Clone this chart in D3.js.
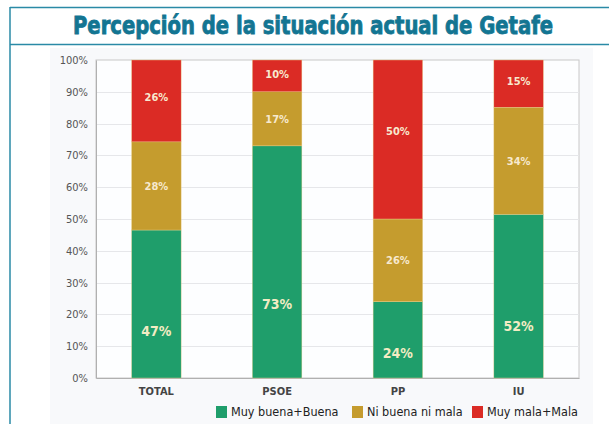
<!DOCTYPE html>
<html><head><meta charset="utf-8">
<script src="https://cdn.jsdelivr.net/npm/d3@7"></script>
<style>body{margin:0;background:#fff}svg{display:block}</style>
</head><body>
<svg id="chart" width="609" height="424"></svg>
<script>
const categories = ["TOTAL", "PSOE", "PP", "IU"];
const seriesNames = ["Muy buena+Buena", "Ni buena ni mala", "Muy mala+Mala"];
const buena = [47, 73, 24, 52];
const niBuena = [28, 17, 26, 34];
const mala = [26, 10, 50, 15];
const yTicks = [0, 10, 20, 30, 40, 50, 60, 70, 80, 90, 100];
const colors = ["#1f9e6b", "#c59c2e", "#db2b25"];
const title = "Percepción de la situación actual de Getafe";

const svg = d3.select("#chart");
const W = 609, H = 424;
const m = {left: 96, right: 30, top: 60, bottom: 46};
const x0 = m.left, x1 = W - m.right, y0 = H - m.bottom, y1 = m.top;

// panel background
svg.append("rect").attr("x", 50).attr("y", 48).attr("width", 543).attr("height", 376).attr("fill", "#f8f9fb");

// title box lines
const teal = "#2a8aa6";
svg.append("rect").attr("x", 11).attr("y", 8.5).attr("width", W - 11).attr("height", 35).attr("fill", "#fff");
svg.append("line").attr("x1", 10).attr("x2", W).attr("y1", 7.5).attr("y2", 7.5).attr("stroke", teal).attr("stroke-width", 1.5);
svg.append("line").attr("x1", 10).attr("x2", W).attr("y1", 44.5).attr("y2", 44.5).attr("stroke", teal).attr("stroke-width", 1.5);
svg.append("line").attr("x1", 10).attr("x2", 10).attr("y1", 7).attr("y2", H).attr("stroke", teal).attr("stroke-width", 1.5);
svg.append("text").attr("x", 313).attr("y", 34).attr("text-anchor", "middle")
  .attr("font-family", "'DejaVu Sans Condensed', 'DejaVu Sans'").attr("font-weight", "bold")
  .attr("font-size", 24).attr("fill", "#137592")
  .attr("stroke", "#137592").attr("stroke-width", 0.8)
  .attr("textLength", 480).attr("lengthAdjust", "spacingAndGlyphs")
  .text(title);

const x = d3.scaleBand().domain(categories).range([x0, x1]).paddingInner(0.59).paddingOuter(0.295);
const y = d3.scaleLinear().domain([0, 1]).range([y0, y1]);

// plot background
svg.append("rect").attr("x", x0).attr("y", y1).attr("width", x1 - x0).attr("height", y0 - y1)
  .attr("fill", "#fdfeff").attr("stroke", "#c8c8c8").attr("stroke-width", 1);

// gridlines
svg.append("g").selectAll("line").data(yTicks.slice(1, -1)).join("line")
  .attr("x1", x0).attr("x2", x1)
  .attr("y1", d => Math.round(y(d / 100)) + 0.5).attr("y2", d => Math.round(y(d / 100)) + 0.5)
  .attr("stroke", "#e6e7ea");

// y axis
const yAxis = d3.axisLeft(y).tickValues(yTicks.map(d => d / 100)).tickFormat(d => Math.round(d * 100) + "%").tickSize(0).tickPadding(8);
const gy = svg.append("g").attr("transform", `translate(${x0},0)`).call(yAxis);
gy.select(".domain").attr("stroke", "#b0b0b0");
gy.selectAll("text").attr("font-family", "'DejaVu Sans Condensed', 'DejaVu Sans'").attr("font-size", 11).attr("fill", "#555");

// x axis
const xAxis = d3.axisBottom(x).tickSize(0).tickPadding(9);
const gx = svg.append("g").attr("transform", `translate(0,${y0})`).call(xAxis);
gx.select(".domain").attr("stroke", "#b0b0b0");
gx.selectAll("text").attr("font-family", "'DejaVu Sans Condensed', 'DejaVu Sans'").attr("font-size", 11).attr("font-weight", "bold").attr("fill", "#444");

// data table & stack
const table = categories.map((c, i) => ({cat: c, s0: buena[i], s1: niBuena[i], s2: mala[i]}));
const stack = d3.stack().keys(["s0", "s1", "s2"]).offset(d3.stackOffsetExpand);
const series = stack(table);

const labelPos = [0.32, 0.5, 0.55];
series.forEach((s, si) => {
  const g = svg.append("g");
  g.selectAll("rect").data(s).join("rect")
    .attr("x", d => x(d.data.cat)).attr("width", x.bandwidth())
    .attr("y", d => y(d[1])).attr("height", d => y(d[0]) - y(d[1]))
    .attr("fill", colors[si]).attr("stroke", "#e9cf8a").attr("stroke-width", 0.4);
  g.selectAll("text").data(s).join("text")
    .attr("x", d => x(d.data.cat) + x.bandwidth() / 2)
    .attr("y", d => y(d[0] + (d[1] - d[0]) * labelPos[si]))
    .attr("dy", "0.35em").attr("text-anchor", "middle")
    .attr("font-family", "'DejaVu Sans Condensed', 'DejaVu Sans'").attr("font-weight", "bold")
    .attr("font-size", si === 0 ? 14 : 11)
    .attr("fill", si === 0 ? "#f3ecc4" : "#f7e9cf")
    .text(d => d.data[s.key] + "%");
});

// legend
const legX = [216, 352, 472];
const lg = svg.append("g");
seriesNames.forEach((n, i) => {
  lg.append("rect").attr("x", legX[i]).attr("y", 406).attr("width", 11).attr("height", 12).attr("fill", colors[i]);
  lg.append("text").attr("x", legX[i] + 15).attr("y", 416)
    .attr("font-family", "'DejaVu Sans Condensed', 'DejaVu Sans'").attr("font-size", 12.5).attr("fill", "#222")
    .text(n);
});
</script>
</body></html>
